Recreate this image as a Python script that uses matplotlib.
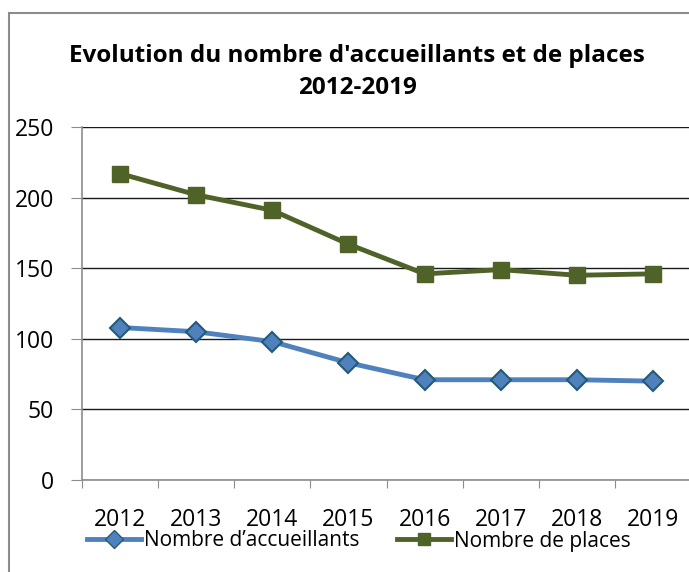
import matplotlib
matplotlib.use("Agg")
import matplotlib.pyplot as plt
from matplotlib.patches import Rectangle
from matplotlib.lines import Line2D

years = ["2012", "2013", "2014", "2015", "2016", "2017", "2018", "2019"]
accueillants = [108, 105, 98, 83, 71, 71, 71, 70]
places = [217, 202, 191, 167, 146, 149, 145, 146]
series_names = ["Nombre d\u2019accueillants", "Nombre de places"]
title = "Evolution du nombre d'accueillants et de places\n2012-2019"
yticks = [0, 50, 100, 150, 200, 250]

plt.rcParams['font.family'] = ['Open Sans', 'DejaVu Sans']

fig = plt.figure(figsize=(6.89, 5.72), dpi=100)
fig.patch.set_facecolor('white')

# outer chart border
fig.patches.append(Rectangle((9/689, -0.05), 1.0, 1 - 13/572 + 0.05,
                             transform=fig.transFigure, fill=False,
                             edgecolor='#8c8c8c', linewidth=1.5, zorder=0))

ax = fig.add_axes([82/689, 1 - 480/572, 1.003 - 82/689, (480 - 127)/572])
x = list(range(len(years)))

blue = '#4F81BD'
blue_edge = '#245A78'
green = '#4F6228'
green_edge = '#4F6228'

ax.plot(x, accueillants, color=blue, lw=3.5, marker='D', markersize=10.5,
        markerfacecolor=blue, markeredgecolor=blue_edge, markeredgewidth=1.5,
        zorder=4, solid_joinstyle='round')
ax.plot(x, places, color=green, lw=3.5, marker='s', markersize=11,
        markerfacecolor=green, markeredgecolor=green_edge, markeredgewidth=1,
        zorder=4, solid_joinstyle='round')

ax.set_xlim(-0.5, len(years) - 0.5)
ax.set_ylim(0, 250)
ax.set_yticks(yticks)
ax.yaxis.grid(True, color='#1a1a1a', lw=1.0)
ax.set_axisbelow(True)

ax.set_xticks([i - 0.5 for i in range(len(years) + 1)], minor=False)
ax.set_xticklabels([''] * (len(years) + 1))
ax.set_xticks(x, minor=True)
ax.set_xticklabels(years, minor=True, fontsize=16.5)
ax.tick_params(axis='x', which='major', direction='out', length=6, color='#8c8c8c')
ax.tick_params(axis='x', which='minor', length=0, pad=20)
ax.tick_params(axis='y', direction='out', length=8, color='#8c8c8c', labelsize=16.5, pad=12)

for s in ['top', 'right']:
    ax.spines[s].set_visible(False)
for s in ['left', 'bottom']:
    ax.spines[s].set_color('#8c8c8c')
    ax.spines[s].set_linewidth(1.2)

fig.text(357/689, 1 - 72/572, title, ha='center', va='center', fontsize=17.5,
         fontweight='bold', linespacing=1.4)

handles = [
    Line2D([0], [0], color=blue, lw=3.5, marker='D', markersize=9,
           markerfacecolor=blue, markeredgecolor=blue_edge),
    Line2D([0], [0], color=green, lw=3.5, marker='s', markersize=9,
           markerfacecolor=green, markeredgecolor=green_edge),
]
fig.legend(handles, series_names, loc='center', bbox_to_anchor=(359/689, 1 - 541/572),
           ncol=2, frameon=False, fontsize=15, handlelength=2.6, handletextpad=0.15,
           columnspacing=1.8, borderaxespad=0)

fig.savefig('out.png', dpi=100)
